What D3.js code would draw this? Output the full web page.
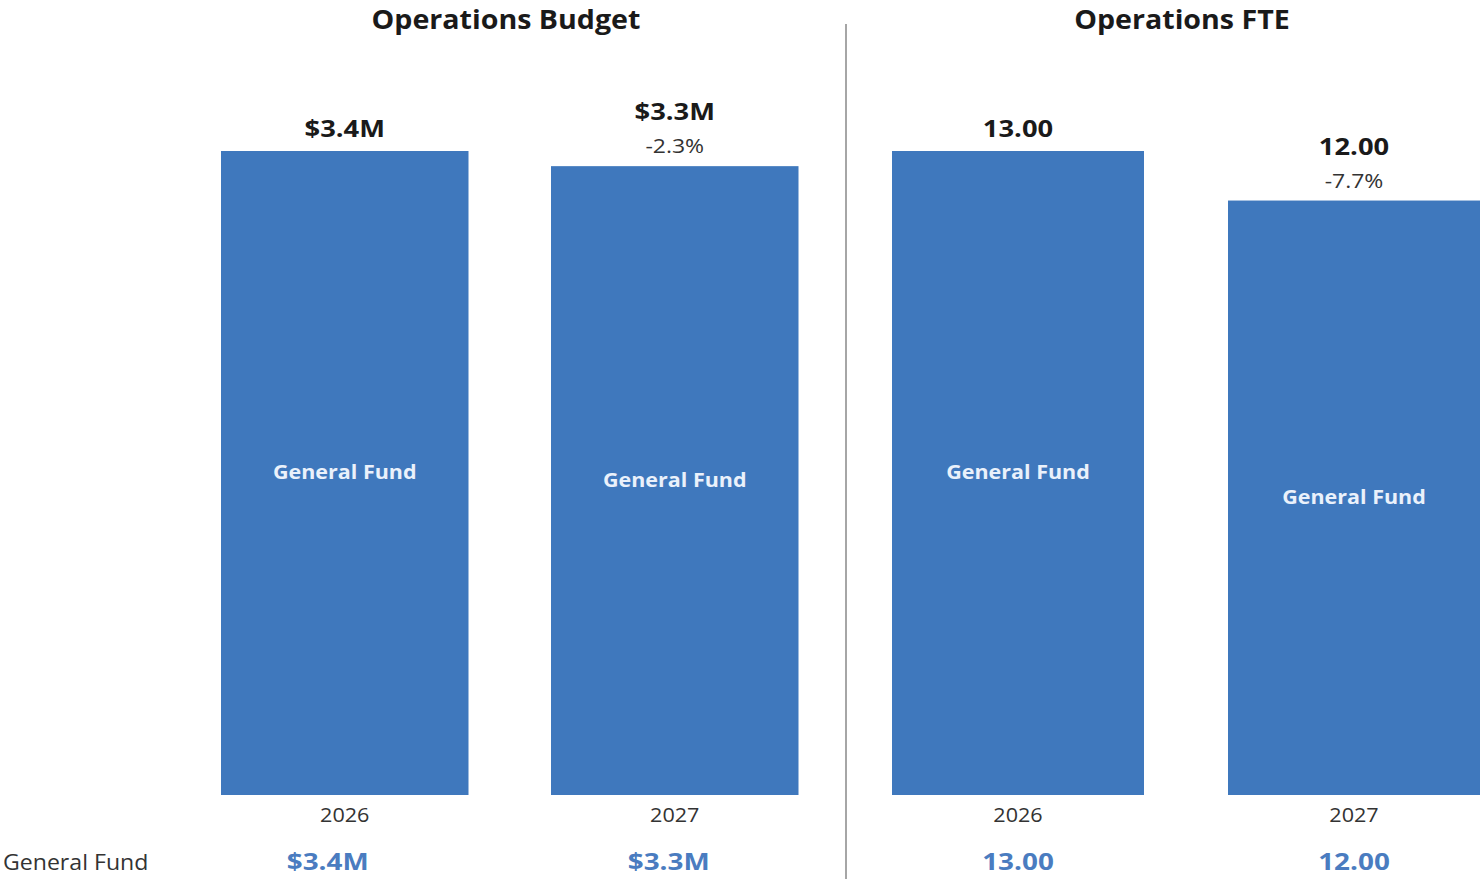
<!DOCTYPE html>
<html>
<head>
<meta charset="utf-8">
<script src="https://cdn.jsdelivr.net/npm/d3@7"></script>
<style>
  body { margin: 0; background: #fff; }
  svg { display: block; font-family: "Open Sans", Lato, sans-serif; }
</style>
</head>
<body>
<div id="chart"></div>
<script>
var years = ['2026', '2027'];
var budgetValues = [3.40, 3.32];
var budgetLabels = ['$3.4M', '$3.3M'];
var budgetChange = [null, '-2.3%'];
var fteValues = [13.00, 12.00];
var fteLabels = ['13.00', '12.00'];
var fteChange = [null, '-7.7%'];
var fundName = 'General Fund';

var barColor = '#3f78bd',
    valueBlue = '#4a7cc0';
var width = 1481,
    height = 879,
    barBottom = 795,
    barTop = 151;

var svg = d3.select('#chart').append('svg').attr('width', width).attr('height', height);

// the reference text looks a bit stretched sideways, so widen it a little
function place(x, y, sx) {
  return 'translate(' + x + ',' + y + ') scale(' + sx + ',1)';
}

function panel(opts) {
  var x = d3.scaleBand().domain(years).range(opts.range).paddingInner(0.25).paddingOuter(0.25);
  var y = d3.scaleLinear().domain([0, d3.max(opts.values)]).range([barBottom, barTop]);
  var g = svg.append('g');
  var cx = function(d) { return x(d) + x.bandwidth() / 2; };

  g.append('text').attr('transform', place(opts.titleX, 29, 1.1)).attr('text-anchor', 'middle')
    .attr('font-size', 26).attr('font-weight', 700).attr('fill', '#1a1a1a').text(opts.title);

  var bars = g.selectAll('.bar').data(years).enter().append('g').attr('class', 'bar');
  bars.append('rect')
    .attr('x', function(d) { return x(d); })
    .attr('y', function(d, i) { return y(opts.values[i]); })
    .attr('width', x.bandwidth())
    .attr('height', function(d, i) { return barBottom - y(opts.values[i]); })
    .attr('fill', barColor);

  bars.append('text')
    .attr('transform', function(d, i) { return place(cx(d), (y(opts.values[i]) + barBottom) / 2 + 6, 1.075); })
    .attr('text-anchor', 'middle').attr('font-size', 20).attr('font-weight', 700)
    .attr('fill', '#eaf1fb').text(fundName);

  // value and change labels above the bars
  bars.append('text')
    .attr('transform', function(d, i) { return place(cx(d), y(opts.values[i]) - (opts.change[i] ? 46 : 14), 1.14); })
    .attr('text-anchor', 'middle').attr('font-size', 24).attr('font-weight', 700)
    .attr('fill', '#1a1a1a').text(function(d, i) { return opts.labels[i]; });
  bars.append('text')
    .attr('transform', function(d, i) { return place(cx(d), y(opts.values[i]) - 13, 1.15); })
    .attr('text-anchor', 'middle').attr('font-size', 20)
    .attr('fill', '#333').text(function(d, i) { return opts.change[i] || ''; });

  // x axis labels
  var axis = g.append('g').attr('transform', 'translate(0,' + barBottom + ')')
    .call(d3.axisBottom(x).tickSize(0).tickPadding(13));
  axis.select('.domain').remove();
  axis.selectAll('text').attr('font-size', 20).attr('fill', '#333')
    .attr('font-family', '"Open Sans", sans-serif').attr('transform', 'scale(1.08,1)');

  // table row
  g.selectAll('.tbl').data(years).enter().append('text')
    .attr('transform', function(d, i) { return place(cx(d) + opts.tableShift[i], 870, 1.16); })
    .attr('text-anchor', 'middle').attr('font-size', 24).attr('font-weight', 700)
    .attr('fill', valueBlue).text(function(d, i) { return opts.labels[i]; });
}

panel({ title: 'Operations Budget', titleX: 506, range: [138.5, 881], values: budgetValues, labels: budgetLabels, change: budgetChange, tableShift: [-17, -6] });
panel({ title: 'Operations FTE', titleX: 1182, range: [808, 1564], values: fteValues, labels: fteLabels, change: fteChange, tableShift: [0, 0] });

svg.append('line').attr('x1', 846).attr('x2', 846).attr('y1', 24).attr('y2', height)
  .attr('stroke', '#888').attr('stroke-width', 1.5);

svg.append('text').attr('transform', place(3, 870, 1.1)).attr('font-size', 21).attr('fill', '#333').text(fundName);
</script>
</body>
</html>
